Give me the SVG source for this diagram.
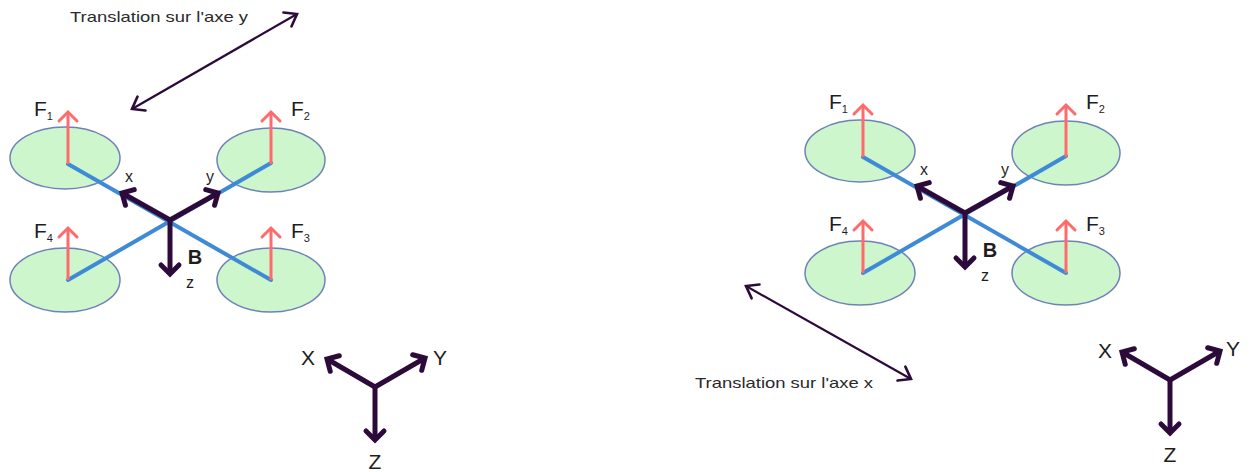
<svg xmlns="http://www.w3.org/2000/svg" width="1251" height="472" viewBox="0 0 1251 472">
  <style>
    text { font-family: "Liberation Sans", Arial, sans-serif; fill: #1e1e1e; }
    .rotor { fill: #cdf6cd; stroke: #6f82b8; stroke-width: 1.5; }
    .arm { stroke: #3f8ad6; stroke-width: 4; stroke-linecap: round; fill: none; }
    .thrust { stroke: #ff6a6a; stroke-width: 3; fill: none; marker-end: url(#headRed); }
    .axis { stroke: #2c0b3b; stroke-width: 5; fill: none; marker-end: url(#headAxis); }
    .move { stroke: #2c0b3b; stroke-width: 2.2; fill: none; marker-start: url(#headThin); marker-end: url(#headThin); }
    .flabel { font-size: 21px; }
    .sub { font-size: 11px; }
    .body { font-size: 16px; }
    .world { font-size: 21px; }
    .caption { font-size: 15px; fill: #2a2a2a; }
  </style>
  <defs>
    <marker id="headRed" markerUnits="userSpaceOnUse" viewBox="-12 -12 14 24" markerWidth="14" markerHeight="24" refX="0" refY="0" orient="auto" overflow="visible">
      <path d="M-9,-9 L0,0 L-9,9" fill="none" stroke="#ff6a6a" stroke-width="3" stroke-linecap="round" stroke-linejoin="miter"/>
    </marker>
    <marker id="headAxis" markerUnits="userSpaceOnUse" viewBox="-12 -12 14 24" markerWidth="14" markerHeight="24" refX="0" refY="0" orient="auto" overflow="visible">
      <path d="M-9,-9 L0,0 L-9,9" fill="none" stroke="#2c0b3b" stroke-width="5" stroke-linecap="round" stroke-linejoin="miter"/>
    </marker>
    <marker id="headThin" markerUnits="userSpaceOnUse" viewBox="-14 -12 16 24" markerWidth="16" markerHeight="24" refX="0" refY="0" orient="auto-start-reverse" overflow="visible">
      <path d="M-11,-8 L0,0 L-11,8" fill="none" stroke="#2c0b3b" stroke-width="2.6" stroke-linecap="round"/>
    </marker>
  </defs>

  <!-- Quadrotor, left view -->
  <g id="quad-left">
    <g id="rotor1"><ellipse class="rotor" cx="65" cy="158" rx="55" ry="31"/></g>
    <g id="rotor2"><ellipse class="rotor" cx="271" cy="160" rx="54" ry="32"/></g>
    <g id="rotor4"><ellipse class="rotor" cx="65" cy="280" rx="55" ry="32"/></g>
    <g id="rotor3"><ellipse class="rotor" cx="271" cy="280" rx="54" ry="32"/></g>
    <g id="arms-left">
      <line class="arm" x1="68" y1="164" x2="271" y2="280"/>
      <line class="arm" x1="68" y1="280" x2="271" y2="163"/>
    </g>
    <g id="thrust-left">
      <line class="thrust" x1="68" y1="164" x2="68" y2="112"/>
      <line class="thrust" x1="271" y1="164" x2="271" y2="112"/>
      <line class="thrust" x1="68" y1="280" x2="68" y2="228"/>
      <line class="thrust" x1="271" y1="280" x2="271" y2="228"/>
    </g>
    <g id="body-axes-left">
      <line class="axis" x1="170" y1="220" x2="122" y2="193"/>
      <line class="axis" x1="170" y1="220" x2="218" y2="193"/>
      <line class="axis" x1="170" y1="220" x2="170" y2="274"/>
    </g>
    <g id="labels-left">
      <text class="flabel" x="34" y="116">F<tspan class="sub" dy="4">1</tspan></text>
      <text class="flabel" x="291" y="116">F<tspan class="sub" dy="4">2</tspan></text>
      <text class="flabel" x="34" y="238">F<tspan class="sub" dy="4">4</tspan></text>
      <text class="flabel" x="291" y="238">F<tspan class="sub" dy="4">3</tspan></text>
      <text class="body" x="129" y="182" text-anchor="middle">x</text>
      <text class="body" x="210" y="182" text-anchor="middle">y</text>
      <text x="195" y="264" text-anchor="middle" font-size="20" font-weight="bold">B</text>
      <text class="body" x="190" y="288" text-anchor="middle">z</text>
    </g>
  </g>

  <!-- World frame, left view -->
  <g id="world-left">
    <line class="axis" x1="375" y1="387" x2="327" y2="359"/>
    <line class="axis" x1="375" y1="387" x2="425" y2="358"/>
    <line class="axis" x1="375" y1="387" x2="375" y2="440"/>
    <text class="world" x="308" y="365" text-anchor="middle">X</text>
    <text class="world" x="440" y="365" text-anchor="middle">Y</text>
    <text class="world" x="375" y="469" text-anchor="middle">Z</text>
  </g>

  <!-- Quadrotor, right view (same body, shifted) -->
  <g id="quad-right" transform="translate(795,-7)">
    <g id="rotor1-r"><ellipse class="rotor" cx="65" cy="158" rx="55" ry="31"/></g>
    <g id="rotor2-r"><ellipse class="rotor" cx="271" cy="160" rx="54" ry="32"/></g>
    <g id="rotor4-r"><ellipse class="rotor" cx="65" cy="280" rx="55" ry="32"/></g>
    <g id="rotor3-r"><ellipse class="rotor" cx="271" cy="280" rx="54" ry="32"/></g>
    <g id="arms-right">
      <line class="arm" x1="68" y1="164" x2="271" y2="280"/>
      <line class="arm" x1="68" y1="280" x2="271" y2="163"/>
    </g>
    <g id="thrust-right">
      <line class="thrust" x1="68" y1="164" x2="68" y2="112"/>
      <line class="thrust" x1="271" y1="164" x2="271" y2="112"/>
      <line class="thrust" x1="68" y1="280" x2="68" y2="228"/>
      <line class="thrust" x1="271" y1="280" x2="271" y2="228"/>
    </g>
    <g id="body-axes-right">
      <line class="axis" x1="170" y1="220" x2="122" y2="193"/>
      <line class="axis" x1="170" y1="220" x2="218" y2="193"/>
      <line class="axis" x1="170" y1="220" x2="170" y2="274"/>
    </g>
    <g id="labels-right">
      <text class="flabel" x="34" y="116">F<tspan class="sub" dy="4">1</tspan></text>
      <text class="flabel" x="291" y="116">F<tspan class="sub" dy="4">2</tspan></text>
      <text class="flabel" x="34" y="238">F<tspan class="sub" dy="4">4</tspan></text>
      <text class="flabel" x="291" y="238">F<tspan class="sub" dy="4">3</tspan></text>
      <text class="body" x="129" y="182" text-anchor="middle">x</text>
      <text class="body" x="210" y="182" text-anchor="middle">y</text>
      <text x="195" y="264" text-anchor="middle" font-size="20" font-weight="bold">B</text>
      <text class="body" x="190" y="288" text-anchor="middle">z</text>
    </g>
  </g>

  <!-- World frame, right view -->
  <g id="world-right" transform="translate(795,-7)">
    <line class="axis" x1="375" y1="387" x2="327" y2="359"/>
    <line class="axis" x1="375" y1="387" x2="425" y2="358"/>
    <line class="axis" x1="375" y1="387" x2="375" y2="440"/>
    <text class="world" x="310" y="365" text-anchor="middle">X</text>
    <text class="world" x="438" y="363" text-anchor="middle">Y</text>
    <text class="world" x="375" y="469" text-anchor="middle">Z</text>
  </g>

  <!-- Translation indicators -->
  <g id="connectors">
    <line class="move" x1="132" y1="109" x2="297" y2="14"/>
    <line class="move" x1="746" y1="286" x2="911" y2="379"/>
  </g>
  <g id="caption-y">
    <text class="caption" x="70" y="22" textLength="178" lengthAdjust="spacingAndGlyphs">Translation sur l'axe y</text>
  </g>
  <g id="caption-x">
    <text class="caption" x="695" y="388" textLength="178" lengthAdjust="spacingAndGlyphs">Translation sur l'axe x</text>
  </g>
</svg>
